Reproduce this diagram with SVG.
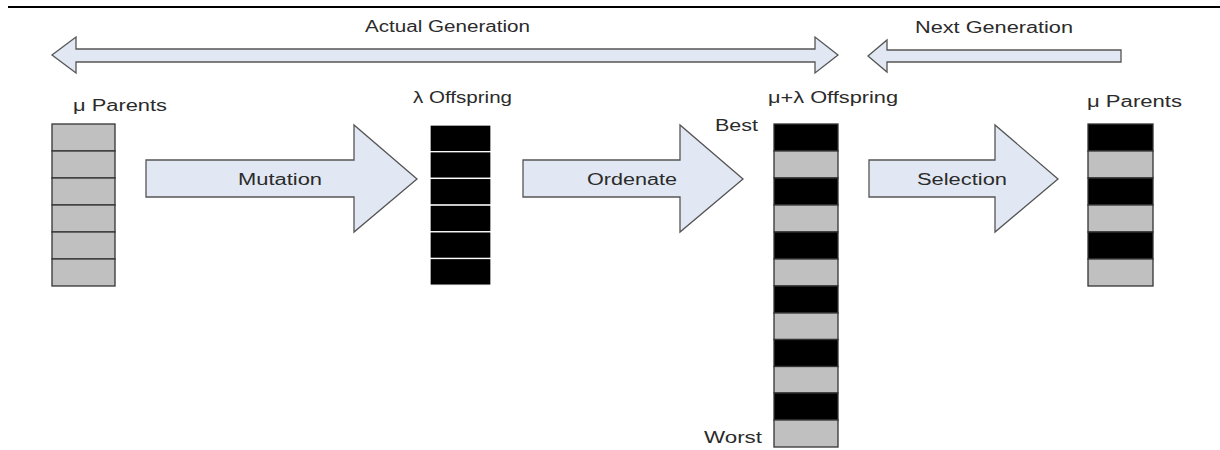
<svg xmlns="http://www.w3.org/2000/svg" width="1220" height="450" viewBox="0 0 1220 450">
<style>
.t{font-family:"Liberation Sans",Arial,sans-serif;font-size:16px;fill:#2b2b2b}
.arr{fill:#e1e8f3;stroke:#555;stroke-width:1.3;stroke-linejoin:miter}
.g{fill:#c0c0c0;stroke:#333;stroke-width:1.3}
.b{fill:#000;stroke:#333;stroke-width:1.3}
.bw{fill:#000;stroke:#fff;stroke-width:1.3}
</style>
<rect x="0" y="0" width="1220" height="450" fill="#fff"/>
<line x1="8" y1="7" x2="1220" y2="7" stroke="#000" stroke-width="2"/>
<g id="connectors">
<g id="actual-generation">
<path class="arr" d="M52,55 L76,37 L76,49 L815,49 L815,37 L838,55 L815,73 L815,62 L76,62 L76,73 Z"/>
<text class="t" x="365" y="32" textLength="165" lengthAdjust="spacingAndGlyphs">Actual Generation</text>
</g>
<g id="next-generation">
<path class="arr" d="M868,56 L887,40 L887,50 L1121,50 L1121,62 L887,62 L887,72 Z"/>
<text class="t" x="915" y="33" textLength="158" lengthAdjust="spacingAndGlyphs">Next Generation</text>
</g>
<g id="mutation">
<path class="arr" d="M146,160 L354,160 L354,125 L417,179 L354,232 L354,197 L146,197 Z"/>
<text class="t" x="238" y="185" textLength="84" lengthAdjust="spacingAndGlyphs">Mutation</text>
</g>
<g id="ordenate">
<path class="arr" d="M523,160 L680,160 L680,125 L743,179 L680,232 L680,197 L523,197 Z"/>
<text class="t" x="587" y="185" textLength="90" lengthAdjust="spacingAndGlyphs">Ordenate</text>
</g>
<g id="selection">
<path class="arr" d="M869,160 L995,160 L995,125 L1058,179 L995,232 L995,197 L869,197 Z"/>
<text class="t" x="917" y="185" textLength="90" lengthAdjust="spacingAndGlyphs">Selection</text>
</g>
</g>
<g id="mu-parents-left">
<text class="t" x="73" y="111" textLength="94" lengthAdjust="spacingAndGlyphs">μ Parents</text>
<rect class="g" x="52" y="124" width="63" height="27"/>
<rect class="g" x="52" y="151" width="63" height="27"/>
<rect class="g" x="52" y="178" width="63" height="27"/>
<rect class="g" x="52" y="205" width="63" height="27"/>
<rect class="g" x="52" y="232" width="63" height="27"/>
<rect class="g" x="52" y="259" width="63" height="27"/>
</g>
<g id="lambda-offspring">
<text class="t" x="413" y="103" textLength="99" lengthAdjust="spacingAndGlyphs">λ Offspring</text>
<rect class="bw" x="430" y="125" width="61" height="26.7"/>
<rect class="bw" x="430" y="151.7" width="61" height="26.7"/>
<rect class="bw" x="430" y="178.4" width="61" height="26.7"/>
<rect class="bw" x="430" y="205.1" width="61" height="26.7"/>
<rect class="bw" x="430" y="231.8" width="61" height="26.7"/>
<rect class="bw" x="430" y="258.5" width="61" height="26.7"/>
</g>
<g id="mu-lambda-offspring">
<text class="t" x="768" y="103" textLength="130" lengthAdjust="spacingAndGlyphs">μ+λ Offspring</text>
<text class="t" x="715" y="131" textLength="43" lengthAdjust="spacingAndGlyphs">Best</text>
<text class="t" x="704" y="443" textLength="58" lengthAdjust="spacingAndGlyphs">Worst</text>
<rect class="b" x="774" y="124" width="64" height="27"/>
<rect class="g" x="774" y="151" width="64" height="27"/>
<rect class="b" x="774" y="178" width="64" height="27"/>
<rect class="g" x="774" y="205" width="64" height="27"/>
<rect class="b" x="774" y="232" width="64" height="27"/>
<rect class="g" x="774" y="259" width="64" height="27"/>
<rect class="b" x="774" y="286" width="64" height="27"/>
<rect class="g" x="774" y="313" width="64" height="26.5"/>
<rect class="b" x="774" y="339.5" width="64" height="27"/>
<rect class="g" x="774" y="366.5" width="64" height="26.5"/>
<rect class="b" x="774" y="393" width="64" height="27"/>
<rect class="g" x="774" y="420" width="64" height="27"/>
</g>
<g id="mu-parents-right">
<text class="t" x="1087" y="107" textLength="95" lengthAdjust="spacingAndGlyphs">μ Parents</text>
<rect class="b" x="1088" y="124" width="65" height="27"/>
<rect class="g" x="1088" y="151" width="65" height="27"/>
<rect class="b" x="1088" y="178" width="65" height="27"/>
<rect class="g" x="1088" y="205" width="65" height="27"/>
<rect class="b" x="1088" y="232" width="65" height="27"/>
<rect class="g" x="1088" y="259" width="65" height="27"/>
</g>
</svg>
